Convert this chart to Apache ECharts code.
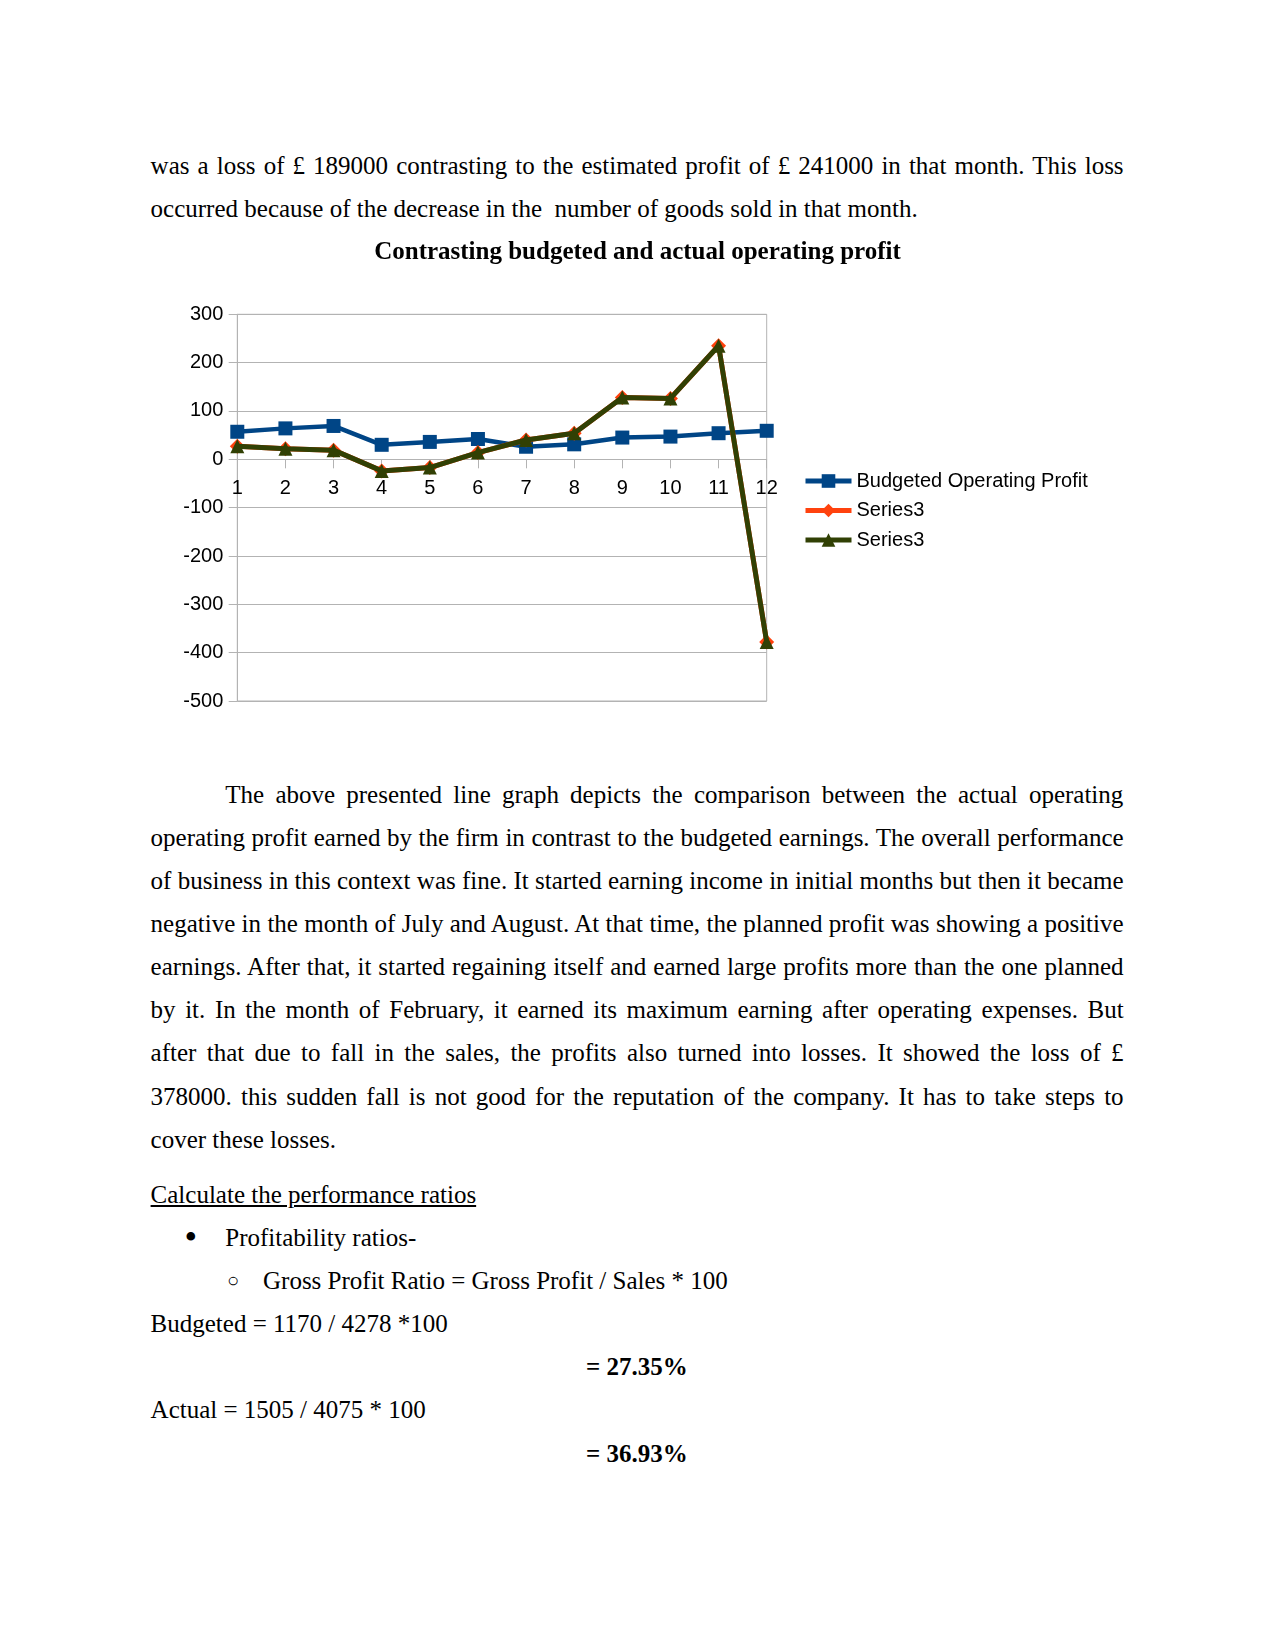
<!DOCTYPE html>
<html><head><meta charset="utf-8">
<script src="https://cdn.jsdelivr.net/npm/echarts@6/dist/echarts.min.js"></script>
<style>
body{margin:0;background:#fff;width:1275px;height:1651px;position:relative;overflow:hidden;font-family:"Liberation Serif",serif;font-size:25px;color:#000}
.l{position:absolute;left:150.6px;width:973px;line-height:43px;height:43px;white-space:nowrap}
.j{text-align:justify;text-align-last:justify;white-space:normal}
#chart{position:absolute;left:0;top:220px;width:1275px;height:520px}
</style></head>
<body>
<div class="l j" style="top:143.8px">was a loss of £ 189000 contrasting to the estimated profit of £ 241000 in that month. This loss</div>
<div class="l" style="top:187px">occurred because of the decrease in the &nbsp;number of goods sold in that month.</div>
<div id="chart"></div>
<div class="l j" style="top:772.5px;left:225.3px;width:898px">The above presented line graph depicts the comparison between the actual operating</div>
<div class="l j" style="top:815.6px">operating profit earned by the firm in contrast to the budgeted earnings. The overall performance</div>
<div class="l j" style="top:858.8px">of business in this context was fine. It started earning income in initial months but then it became</div>
<div class="l j" style="top:901.9px">negative in the month of July and August. At that time, the planned profit was showing a positive</div>
<div class="l j" style="top:945.1px">earnings. After that, it started regaining itself and earned large profits more than the one planned</div>
<div class="l j" style="top:988.2px">by it. In the month of February, it earned its maximum earning after operating expenses. But</div>
<div class="l j" style="top:1031.4px">after that due to fall in the sales, the profits also turned into losses. It showed the loss of £</div>
<div class="l j" style="top:1074.5px">378000. this sudden fall is not good for the reputation of the company. It has to take steps to</div>
<div class="l" style="top:1117.7px">cover these losses.</div>
<div class="l" style="top:1172.5px;text-decoration:underline">Calculate the performance ratios</div>
<div class="l" style="top:1215.7px;left:184.5px;font-size:36px;line-height:43px">•</div>
<div class="l" style="top:1215.7px;left:225.3px">Profitability ratios-</div>
<div class="l" style="top:1258.8px;left:227px;font-size:20px">○</div>
<div class="l" style="top:1258.8px;left:263px">Gross Profit Ratio = Gross Profit / Sales * 100</div>
<div class="l" style="top:1302px">Budgeted = 1170 / 4278 *100</div>
<div class="l" style="top:1345.1px;left:586px;font-weight:bold">= 27.35%</div>
<div class="l" style="top:1388.3px">Actual = 1505 / 4075 * 100</div>
<div class="l" style="top:1432.4px;left:586px;font-weight:bold">= 36.93%</div>
<script>
const months = ['1','2','3','4','5','6','7','8','9','10','11','12'];
const budgetedProfit = [57, 64, 69, 30, 36, 42, 26, 31, 45, 47, 54, 59];
const series3A = [27, 22, 19, -24, -17, 14, 40, 54, 128, 126, 235, -378];
const series3B = [27, 22, 19, -24, -17, 14, 40, 54, 128, 126, 235, -378];
const yTicks = {min: -500, max: 300, interval: 100};
const names = ['Budgeted Operating Profit', 'Series3', 'Series3\u200b'];

const chart = echarts.init(document.getElementById('chart'), null, {renderer: 'canvas'});
const axisFont = {fontFamily: 'Liberation Sans', fontSize: 20, color: '#000'};
const gridH = 386.7;
// place the category axis at the value 0 (fraction of the value range below zero)
const zeroOffset = -gridH * (0 - yTicks.min) / (yTicks.max - yTicks.min);
chart.setOption({
  animation: false,
  title: {
    text: 'Contrasting budgeted and actual operating profit',
    left: 'center', top: 15,
    textStyle: {fontFamily: 'Liberation Serif', fontWeight: 'bold', fontSize: 25, color: '#000'}
  },
  grid: {left: 237.3, top: 94.3, width: 529.4, height: gridH, show: true, borderColor: '#b3b3b3', borderWidth: 1, containLabel: false},
  legend: {
    orient: 'vertical', left: 798, top: 246, itemWidth: 46, itemHeight: 17, itemGap: 9.5,
    data: names,
    formatter: n => n.replace('\u200b', ''),
    lineStyle: {width: 5},
    textStyle: {fontFamily: 'Liberation Sans', fontSize: 20, color: '#000'}
  },
  xAxis: {
    type: 'category', data: months, boundaryGap: false, offset: zeroOffset,
    axisLine: {onZero: false, lineStyle: {color: '#b3b3b3', width: 1}},
    axisTick: {show: true, length: 9, alignWithLabel: true, lineStyle: {color: '#b3b3b3'}},
    axisLabel: Object.assign({margin: 19, interval: 0}, axisFont),
    splitLine: {show: false}
  },
  yAxis: {
    type: 'value', min: yTicks.min, max: yTicks.max, interval: yTicks.interval,
    axisLine: {show: true, lineStyle: {color: '#b3b3b3'}},
    axisTick: {show: true, length: 8.6, lineStyle: {color: '#b3b3b3'}},
    axisLabel: Object.assign({margin: 14}, axisFont),
    splitLine: {lineStyle: {color: '#b3b3b3', width: 1}}
  },
  series: [
    {name: names[0], type: 'line', data: budgetedProfit, symbol: 'rect', symbolSize: 14,
     lineStyle: {color: '#004586', width: 4.5}, itemStyle: {color: '#004586'}, z: 2},
    {name: names[1], type: 'line', data: series3A, symbol: 'diamond', symbolSize: 15,
     lineStyle: {color: '#ff420e', width: 5}, itemStyle: {color: '#ff420e'}, z: 3},
    {name: names[2], type: 'line', data: series3B, symbol: 'triangle', symbolSize: 14,
     lineStyle: {color: '#314004', width: 5}, itemStyle: {color: '#314004'}, z: 4}
  ]
});
</script>
</body></html>
